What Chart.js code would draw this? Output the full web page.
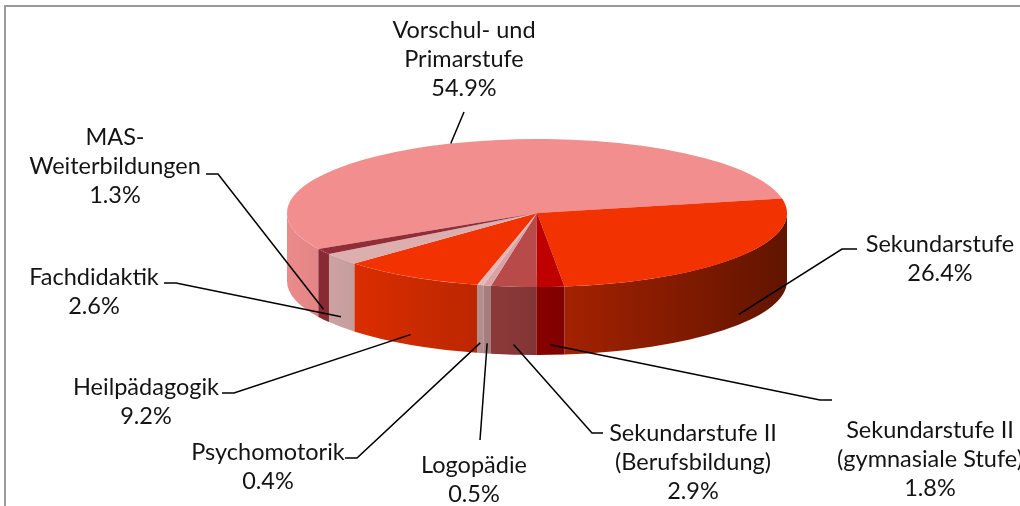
<!DOCTYPE html>
<html>
<head>
<meta charset="utf-8">
<title>Pie 3D</title>
<script src="https://cdn.jsdelivr.net/npm/chart.js@4.4.1/dist/chart.umd.min.js"></script>
<style>
  html, body { margin: 0; padding: 0; background: #fff; }
  #wrap { width: 1020px; height: 506px; position: relative; overflow: hidden; }
</style>
</head>
<body>
<div id="wrap"><canvas id="pieChart" width="1020" height="506"></canvas></div>
<script>
// Data
const categories = [
    ['Vorschul- und', 'Primarstufe'],
    ['Sekundarstufe'],
    ['Sekundarstufe II', '(gymnasiale Stufe)'],
    ['Sekundarstufe II', '(Berufsbildung)'],
    ['Logopädie'],
    ['Psychomotorik'],
    ['Heilpädagogik'],
    ['Fachdidaktik'],
    ['MAS-', 'Weiterbildungen']
];
const shares = [54.9, 26.4, 1.8, 2.9, 0.5, 0.4, 9.2, 2.6, 1.3];

// Top face colours of each slice
const sliceColors = ['#F28E8E', '#F23200', '#BE0000', '#B84A4A', '#D9A3A3', '#E4B8B8', '#F23200', '#DCAEAE', '#912D37'];

// Where the pie sits on the page (ellipse of the top face) and its depth
const PIE = { cx: 537, cy: 213, rx: 250, ry: 74, depth: 68 };

// Label text positions and leader elbows (page pixels)
const labelLayout = [
    { x: 464, y: 30, line: [[464, 112]] },
    { x: 940, y: 244, line: [[857, 249], [842, 249]] },
    { x: 930, y: 430, line: [[832, 400], [820, 400]] },
    { x: 693, y: 433, line: [[603, 433], [592, 433]] },
    { x: 474, y: 465, line: [[480, 440]] },
    { x: 268, y: 452, line: [[345, 458], [357, 458]] },
    { x: 146, y: 387, line: [[222, 393], [234, 393]] },
    { x: 94, y: 277, line: [[164, 283], [176, 283]] },
    { x: 115, y: 137, line: [[206, 174], [218, 174]] }
];

const LINE_H = 29;

function shade(hex, f) {
    const n = parseInt(hex.slice(1), 16);
    const r = Math.round(((n >> 16) & 255) * f);
    const g = Math.round(((n >> 8) & 255) * f);
    const b = Math.round((n & 255) * f);
    return 'rgb(' + r + ',' + g + ',' + b + ')';
}

// parts of an arc that face the viewer (lower half of the ellipse)
function frontRanges(s, e) {
    const TAU = Math.PI * 2;
    const off = Math.floor(s / TAU) * TAU;
    s -= off; e -= off;
    const out = [];
    [[0, Math.PI], [TAU, TAU + Math.PI]].forEach(function(r) {
        const a = Math.max(s, r[0]), b = Math.min(e, r[1]);
        if (b > a) out.push([a, b]);
    });
    return out;
}

const pie3d = {
    id: 'pie3d',
    beforeDraw(chart) {
        const ctx = chart.ctx;
        // frame of the original chart area
        ctx.save();
        ctx.strokeStyle = '#9a9a9a';
        ctx.lineWidth = 2;
        ctx.strokeRect(5, 6, 1200, 700);
        ctx.restore();
    },
    beforeDatasetsDraw(chart) {
        const ctx = chart.ctx;
        const arcs = chart.getDatasetMeta(0).data;
        const r = arcs[0].outerRadius, x = arcs[0].x, y = arcs[0].y;
        ctx.save();
        ctx.translate(PIE.cx, PIE.cy);
        ctx.scale(PIE.rx / r, PIE.ry / r);
        ctx.translate(-x, -y);
        const t = PIE.depth * r / PIE.ry;

        arcs.forEach(function(arc, i) {
            const grad = ctx.createLinearGradient(x - r, 0, x + r, 0);
            grad.addColorStop(0, shade(sliceColors[i], 0.97));
            grad.addColorStop(0.45, shade(sliceColors[i], 0.74));
            grad.addColorStop(1, shade(sliceColors[i], 0.40));
            frontRanges(arc.startAngle, arc.endAngle).forEach(function(rg) {
                ctx.beginPath();
                ctx.arc(x, y, r, rg[0], rg[1]);
                ctx.arc(x, y + t, r, rg[1], rg[0], true);
                ctx.closePath();
                ctx.fillStyle = grad;
                ctx.fill();
            });
        });
        // the library draws the top faces next, in this squashed space
    },
    afterDatasetsDraw(chart) {
        const ctx = chart.ctx;
        ctx.restore();

        const arcs = chart.getDatasetMeta(0).data;
        ctx.save();
        ctx.strokeStyle = '#000';
        ctx.lineWidth = 1.5;
        arcs.forEach(function(arc, i) {
            const mid = (arc.startAngle + arc.endAngle) / 2;
            const ux = Math.cos(mid), uy = Math.sin(mid);
            const ax = PIE.cx + ux * PIE.rx;
            const ay = PIE.cy + uy * PIE.ry + (uy > 0 ? PIE.depth * 0.85 : 0);
            const pts = labelLayout[i].line;
            ctx.beginPath();
            ctx.moveTo(pts[0][0], pts[0][1]);
            for (let k = 1; k < pts.length; k++) ctx.lineTo(pts[k][0], pts[k][1]);
            ctx.lineTo(ax, ay);
            ctx.stroke();
        });

        ctx.fillStyle = '#141414';
        ctx.font = '23.5px Lato';
        ctx.textAlign = 'center';
        ctx.textBaseline = 'middle';
        categories.forEach(function(lines, i) {
            const pos = labelLayout[i];
            const all = lines.concat([shares[i].toFixed(1) + '%']);
            all.forEach(function(txt, k) {
                ctx.fillText(txt, pos.x, pos.y + k * LINE_H);
            });
        });
        ctx.restore();
    }
};

const pieChart = new Chart(document.getElementById('pieChart').getContext('2d'), {
    type: 'pie',
    data: {
        labels: categories.map(function(l) { return l.join(' '); }),
        datasets: [{
            data: shares,
            backgroundColor: sliceColors,
            borderWidth: 0,
            clip: false
        }]
    },
    options: {
        responsive: false,
        animation: false,
        events: [],
        rotation: -119,
        layout: { padding: { left: 54, right: 0, top: 0, bottom: 80 } },
        plugins: {
            legend: { display: false },
            tooltip: { enabled: false }
        }
    },
    plugins: [pie3d]
});
</script>
</body>
</html>
